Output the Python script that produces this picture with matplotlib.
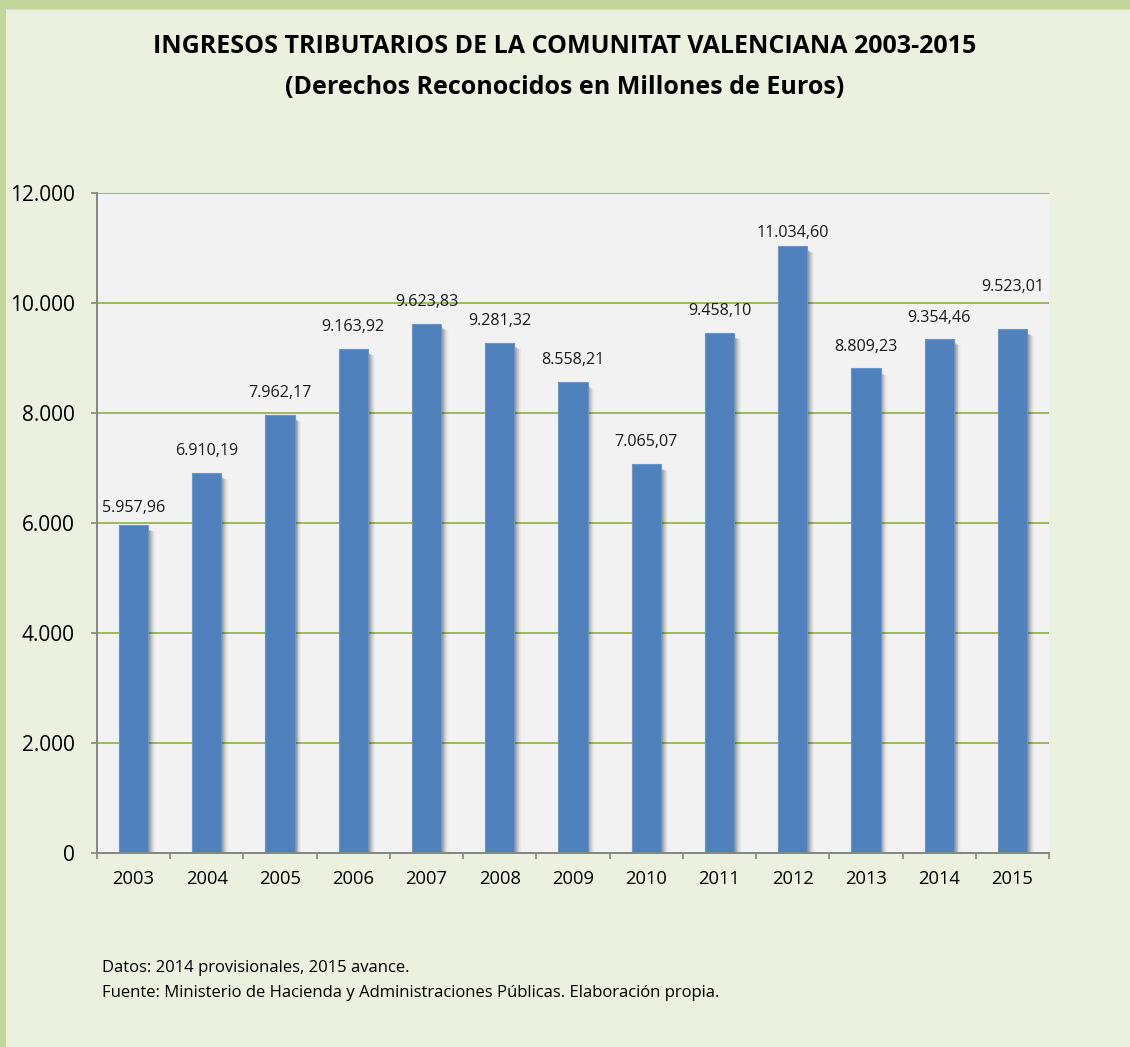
import numpy as np
import matplotlib
matplotlib.use("Agg")
import matplotlib.pyplot as plt
from matplotlib.patches import Rectangle

plt.rcParams['font.family'] = ['Open Sans', 'DejaVu Sans']

years = ['2003', '2004', '2005', '2006', '2007', '2008', '2009',
         '2010', '2011', '2012', '2013', '2014', '2015']
ingresos = [5957.96, 6910.19, 7962.17, 9163.92, 9623.83, 9281.32, 8558.21,
            7065.07, 9458.10, 11034.60, 8809.23, 9354.46, 9523.01]
yticks = [0, 2000, 4000, 6000, 8000, 10000, 12000]

title = ("INGRESOS TRIBUTARIOS DE LA COMUNITAT VALENCIANA 2003-2015\n"
         "(Derechos Reconocidos en Millones de Euros)")
nota1 = "Datos: 2014 provisionales, 2015 avance."
nota2 = "Fuente: Ministerio de Hacienda y Administraciones Públicas. Elaboración propia."

# label offsets (pixels above bar) - some labels were moved by hand in the original
label_off = [17, 22, 22, 22, 22, 22, 22, 22, 22, 13, 21, 21, 42]


def fmt_es(v, dec=2):
    s = f"{v:,.{dec}f}"
    return s.replace(",", "X").replace(".", ",").replace("X", ".")


W, H = 1130, 1047
fig = plt.figure(figsize=(W / 100, H / 100), dpi=100)
fig.patch.set_facecolor('#EBF1DE')

# green frame on top and left
fig.add_artist(Rectangle((0, 1 - 9 / H), 1, 9 / H, transform=fig.transFigure,
                         facecolor='#C3D69B', edgecolor='none'))
fig.add_artist(Rectangle((0, 1 - 10 / H), 1, 1.2 / H, transform=fig.transFigure,
                         facecolor='#D9D9D9', edgecolor='none'))
fig.add_artist(Rectangle((0, 0), 6 / W, 1, transform=fig.transFigure,
                         facecolor='#C3D69B', edgecolor='none'))

ax = fig.add_axes([97 / W, 1 - 853 / H, 952 / W, 660 / H])
ax.set_facecolor('#F2F2F2')

x = np.arange(len(years))
bw = 0.40

# soft shadow to the right of each bar
for k, a in enumerate([0.12, 0.10, 0.09, 0.07, 0.055, 0.04, 0.025, 0.012]):
    dx = 0.012 + k * 0.013
    ax.bar(x + dx, np.array(ingresos) - 40 - k * 8, width=bw, bottom=-30,
           color='black', alpha=a, linewidth=0, zorder=2)

ax.bar(x, ingresos, width=bw, color='#4F81BD', edgecolor='#6A95CB',
       linewidth=0.8, zorder=3)

for xi, v, off in zip(x, ingresos, label_off):
    ax.annotate(fmt_es(v), (xi, v), xytext=(0, off), textcoords='offset pixels',
                ha='center', va='center', fontsize=11.6, color='#1a1a1a',
                zorder=4)

ax.set_xlim(-0.5, len(years) - 0.5)
ax.set_ylim(0, 12000)
ax.set_yticks(yticks)
ax.set_yticklabels([fmt_es(t, 0) for t in yticks], fontsize=15)
ax.yaxis.grid(True, color='#9BBB59', linewidth=1.4, zorder=1)
ax.set_axisbelow(True)

ax.set_xticks(x)
ax.set_xticklabels(years, fontsize=13.2)
ax.set_xticks(np.arange(len(years) + 1) - 0.5, minor=True)
ax.tick_params(axis='x', which='major', length=0, pad=12)
ax.tick_params(axis='x', which='minor', length=4.5, width=1.2, color='#868686')
ax.tick_params(axis='y', length=4.5, width=1.2, color='#868686', pad=11.5)

for s in ['top', 'right']:
    ax.spines[s].set_visible(False)
for s in ['left', 'bottom']:
    ax.spines[s].set_color('#868686')
    ax.spines[s].set_linewidth(1.4)
    ax.spines[s].set_zorder(5)

fig.text(565 / W, 1 - 67 / H, title, ha='center', va='center', fontsize=18,
         fontweight='bold', linespacing=1.85, color='black')
fig.text(102 / W, 1 - 968 / H, nota1, ha='left', va='center', fontsize=12)
fig.text(102 / W, 1 - 993 / H, nota2, ha='left', va='center', fontsize=12)

fig.savefig('out.png', dpi=100, facecolor=fig.get_facecolor())
